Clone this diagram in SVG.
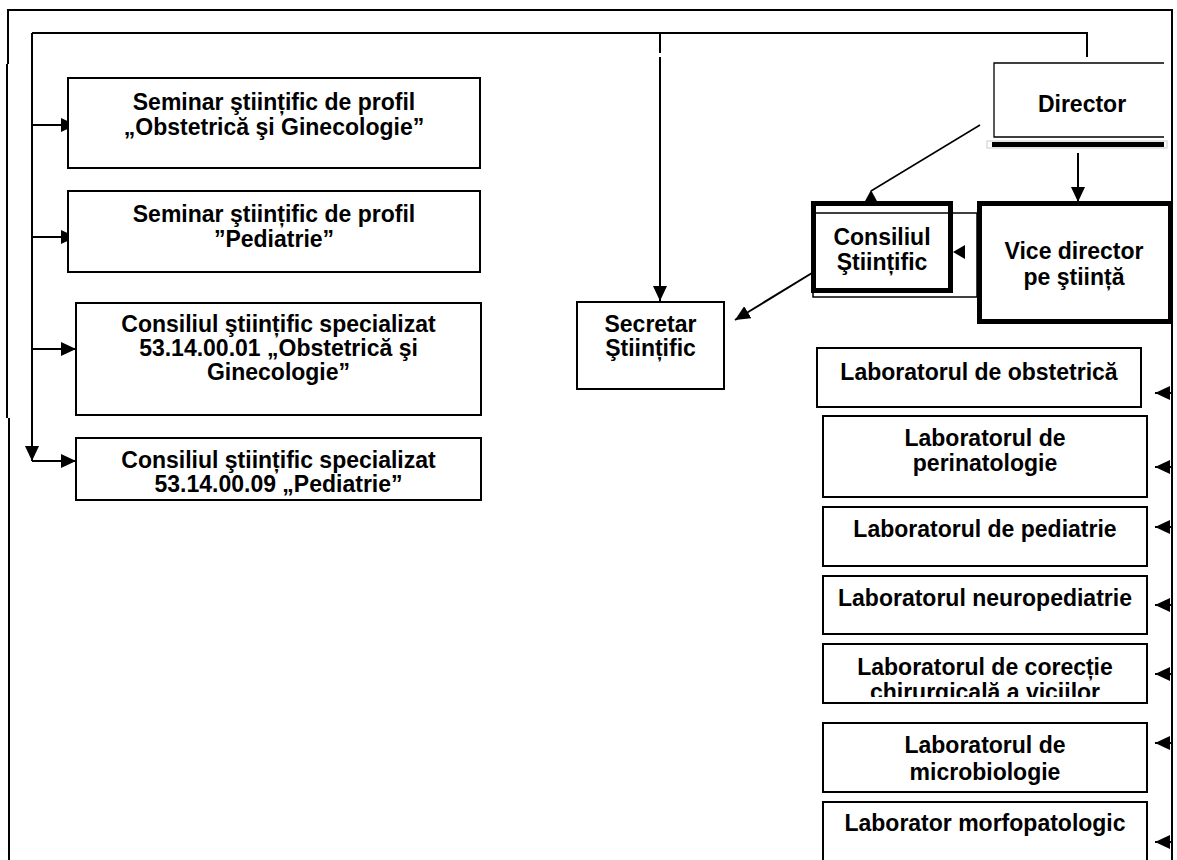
<svg xmlns="http://www.w3.org/2000/svg" width="1177" height="860" viewBox="0 0 1177 860">
<style>
  text { font-family: "Liberation Sans", Arial, sans-serif; font-weight: bold; font-size: 23px; fill: #000; text-anchor: middle; }
  .box { fill: #fff; stroke: #000; stroke-width: 2; }
  .thick { fill: #fff; stroke: #000; stroke-width: 5; }
  .ln { fill: none; stroke: #000; stroke-width: 2; }
  .thin { fill: none; stroke: #000; stroke-width: 1.5; }
  .arr { fill: none; stroke: #000; stroke-width: 2; marker-end: url(#ah); }
</style>
<defs>
  <marker id="ah" markerUnits="userSpaceOnUse" markerWidth="15" markerHeight="14" refX="15" refY="7" orient="auto">
    <path d="M0,0 L15,7 L0,14 Z" fill="#000"/>
  </marker>
  <clipPath id="clip5"><rect x="823" y="644" width="324" height="53"/></clipPath>
</defs>
<rect width="1177" height="860" fill="#fff"/>

<g id="frame">
  <path class="ln" d="M8,64 V10 H1172 V860"/>
  <path class="ln" d="M7,64 V418"/>
  <path class="ln" d="M9,418 V860"/>
</g>

<g id="connectors">
  <path class="ln" d="M32,33 H1087 V57"/>
  <path class="ln" d="M660,33 V53"/>
  <line class="arr" x1="660" y1="57" x2="660" y2="301"/>
  <line class="arr" x1="32" y1="33" x2="32" y2="461"/>
  <line class="arr" x1="32" y1="125" x2="76" y2="125"/>
  <line class="arr" x1="32" y1="237" x2="76" y2="237"/>
  <line class="arr" x1="32" y1="349" x2="76" y2="349"/>
  <line class="arr" x1="32" y1="461" x2="76" y2="461"/>
  <line class="arr" x1="1078" y1="153" x2="1078" y2="202"/>
  <line class="thin" x1="980" y1="125" x2="871" y2="191"/>
  <line class="arr" x1="812" y1="273" x2="735" y2="320"/>
  <line class="arr" x1="1172" y1="393" x2="1155" y2="393"/>
  <line class="arr" x1="1172" y1="467" x2="1155" y2="467"/>
  <line class="arr" x1="1172" y1="527" x2="1155" y2="527"/>
  <line class="arr" x1="1172" y1="605" x2="1155" y2="605"/>
  <line class="arr" x1="1172" y1="674" x2="1155" y2="674"/>
  <line class="arr" x1="1172" y1="743" x2="1155" y2="743"/>
  <line class="arr" x1="1172" y1="842" x2="1155" y2="842"/>
</g>

<g id="seminar-obstetrica">
  <rect class="box" x="68" y="78" width="412" height="90"/>
  <text x="274" y="110">Seminar ştiințific de profil</text>
  <text x="274" y="135">„Obstetrică şi Ginecologie”</text>
</g>
<g id="seminar-pediatrie">
  <rect class="box" x="68" y="191" width="412" height="81"/>
  <text x="274" y="222">Seminar ştiințific de profil</text>
  <text x="274" y="247">”Pediatrie”</text>
</g>
<g id="consiliul-53-14-00-01">
  <rect class="box" x="76" y="303" width="405" height="112"/>
  <text x="278.5" y="332">Consiliul ştiințific specializat</text>
  <text x="278.5" y="356">53.14.00.01 „Obstetrică şi</text>
  <text x="278.5" y="380">Ginecologie”</text>
</g>
<g id="consiliul-53-14-00-09">
  <rect class="box" x="76" y="438" width="405" height="62"/>
  <text x="278.5" y="468">Consiliul ştiințific specializat</text>
  <text x="278.5" y="492">53.14.00.09 „Pediatrie”</text>
</g>

<g id="secretar">
  <rect class="box" x="577" y="302" width="147" height="87"/>
  <text x="650.5" y="332">Secretar</text>
  <text x="650.5" y="356">Ştiințific</text>
</g>

<g id="director">
  <rect x="987" y="141" width="180" height="7" fill="none" stroke="#ccc" stroke-width="1"/>
  <rect x="992" y="142" width="172" height="5" fill="#000"/>
  <path d="M1164,63 H994 V137 H1164" fill="none" stroke="#000" stroke-width="1.3"/>
  <text x="1082" y="112">Director</text>
</g>

<g id="consiliul-stiintific">
  <rect x="813" y="213" width="164" height="84" fill="none" stroke="#000" stroke-width="1.5"/>
  <rect class="thick" x="813.5" y="203.5" width="137" height="87"/>
  <line x1="816" y1="213" x2="948" y2="213" stroke="#000" stroke-width="1.5"/>
  <text x="882" y="245">Consiliul</text>
  <text x="882" y="270">Ştiințific</text>
  <path d="M864,203 L871,190 L878,203 Z" fill="#000"/>
  <path d="M953,252 L965,245 L965,259 Z" fill="#000"/>
</g>

<g id="vice-director">
  <rect class="thick" x="979.5" y="203.5" width="191" height="118"/>
  <text x="1074" y="259">Vice director</text>
  <text x="1074" y="285">pe ştiință</text>
</g>

<g id="lab-obstetrica">
  <rect class="box" x="817" y="348" width="324" height="59"/>
  <text x="979" y="380">Laboratorul de obstetrică</text>
</g>
<g id="lab-perinatologie">
  <rect class="box" x="823" y="416" width="324" height="81"/>
  <text x="985" y="446">Laboratorul de</text>
  <text x="985" y="471">perinatologie</text>
</g>
<g id="lab-pediatrie">
  <rect class="box" x="823" y="507" width="324" height="59"/>
  <text x="985" y="537">Laboratorul de pediatrie</text>
</g>
<g id="lab-neuropediatrie">
  <rect class="box" x="823" y="576" width="324" height="58"/>
  <text x="985" y="606">Laboratorul neuropediatrie</text>
</g>
<g id="lab-corectie">
  <rect class="box" x="823" y="644" width="324" height="59"/>
  <g clip-path="url(#clip5)">
    <text x="985" y="675">Laboratorul de corecție</text>
    <text x="985" y="700">chirurgicală a viciilor</text>
  </g>
</g>
<g id="lab-microbiologie">
  <rect class="box" x="823" y="723" width="324" height="69"/>
  <text x="985" y="753">Laboratorul de</text>
  <text x="985" y="780">microbiologie</text>
</g>
<g id="lab-morfopatologic">
  <rect class="box" x="823" y="802" width="324" height="62"/>
  <text x="985" y="831">Laborator morfopatologic</text>
</g>
</svg>
